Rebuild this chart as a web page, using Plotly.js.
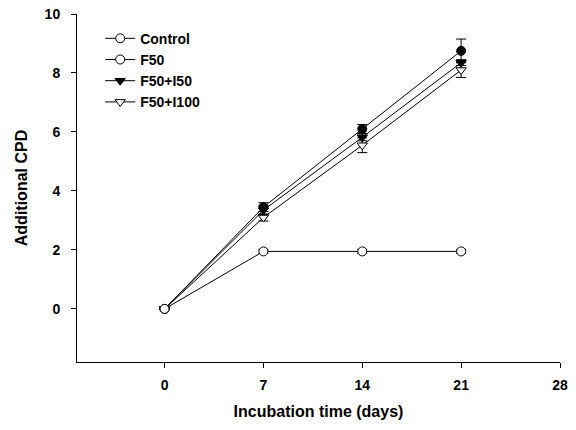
<!DOCTYPE html>
<html>
<head>
<meta charset="utf-8">
<script src="https://cdn.plot.ly/plotly-3.0.1.min.js"></script>
<style>html,body{margin:0;padding:0;background:#fff;}#chart{width:576px;height:430px;}</style>
</head>
<body>
<div id="chart"></div>
<script>
const days = [0, 7, 14, 21];
const controlVals = [0, 3.45, 6.1, 8.75];
const controlErr = [0, 0.15, 0.15, 0.4];
const f50Vals = [0, 1.95, 1.95, 1.95];
const f50Err = [0, 0.07, 0.07, 0.07];
const f50i50Vals = [0, 3.35, 5.82, 8.35];
const f50i50Err = [0, 0.15, 0.12, 0.1];
const f50i100Vals = [0, 3.1, 5.55, 8.1];
const f50i100Err = [0, 0.12, 0.25, 0.25];
const xTicks = [0, 7, 14, 21, 28];
const yTicks = [0, 2, 4, 6, 8, 10];

const FAM = 'Liberation Sans, Arial, sans-serif';
function tr(name, y, err, symbol, fill, showlegend) {
  return {
    x: days, y: y, name: name, type: 'scatter', mode: 'lines+markers',
    showlegend: showlegend,
    line: {color: '#000', width: 1},
    marker: {symbol: symbol, size: 9, color: fill, line: {color: '#000', width: 1}},
    error_y: {type: 'data', array: err, visible: true, color: '#000', thickness: 1, width: 5}
  };
}
function leg(name, symbol, fill) {
  return {x: [null], y: [null], name: name, type: 'scatter', mode: 'lines+markers',
          line: {color: '#000', width: 1},
          marker: {symbol: symbol, size: 9, color: fill, line: {color: '#000', width: 1}}};
}
const data = [
  tr('F50+I100', f50i100Vals, f50i100Err, 'triangle-down', '#fff', false),
  tr('F50+I50', f50i50Vals, f50i50Err, 'triangle-down', '#000', false),
  tr('Control', controlVals, controlErr, 'circle', '#000', false),
  tr('F50', f50Vals, f50Err, 'circle', '#fff', false),
  // legend entries (the reference legend shows Control with an open circle)
  leg('Control', 'circle', '#fff'),
  leg('F50', 'circle', '#fff'),
  leg('F50+I50', 'triangle-down', '#000'),
  leg('F50+I100', 'triangle-down', '#fff')
];
const tickFont = {family: FAM, size: 14, color: '#000', weight: 'bold'};
const titleFont = {family: FAM, size: 16, color: '#000', weight: 'bold'};
const layout = {
  width: 576, height: 430,
  margin: {l: 77, r: 16, t: 14, b: 68},
  paper_bgcolor: '#fff', plot_bgcolor: '#fff',
  font: {family: FAM, color: '#000'},
  showlegend: true,
  legend: {x: 0.048, y: 0.975, xanchor: 'left', yanchor: 'top', bgcolor: 'rgba(0,0,0,0)',
           font: {family: FAM, size: 14, color: '#000', weight: 'bold'}, tracegroupgap: 0},
  xaxis: {
    range: [-6.2, 28], tickvals: xTicks, ticktext: xTicks.map(String),
    showgrid: false, zeroline: false, showline: true, linecolor: '#000', linewidth: 1,
    ticks: 'outside', ticklen: 5, tickcolor: '#000', tickwidth: 1,
    ticklabelstandoff: 5,
    tickfont: tickFont,
    title: {text: 'Incubation time (days)', font: titleFont, standoff: 14}
  },
  yaxis: {
    range: [-1.8, 10], tickvals: yTicks, ticktext: yTicks.map(String),
    showgrid: false, zeroline: false, showline: true, linecolor: '#000', linewidth: 1,
    ticks: 'outside', ticklen: 5, tickcolor: '#000', tickwidth: 1,
    ticklabelstandoff: 8,
    tickfont: tickFont,
    title: {text: 'Additional CPD', font: titleFont, standoff: 13}
  }
};
Plotly.newPlot('chart', data, layout, {displayModeBar: false, staticPlot: true});
</script>
</body>
</html>
